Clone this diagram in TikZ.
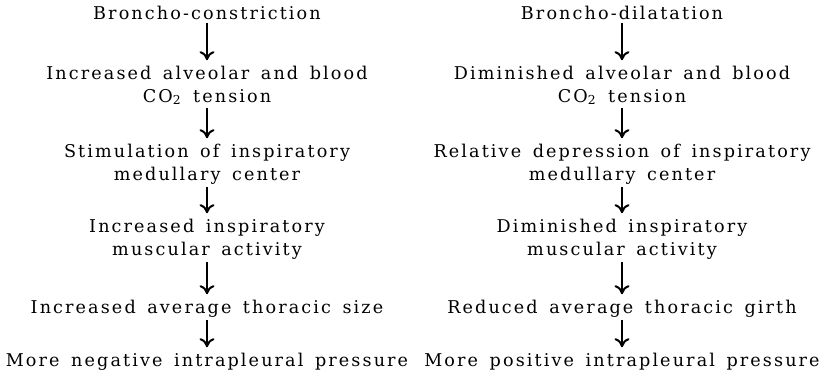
\documentclass[tikz,border=0pt]{standalone}
\usepackage{fontspec}
\setmainfont{DejaVu Serif}[LetterSpace=12,WordSpace=1.5]
\usetikzlibrary{arrows.meta,positioning}
\tikzset{
  stage/.style={align=center,inner sep=1pt,anchor=base,
    font=\fontsize{8.8}{11.5}\selectfont},
  leads/.style={-{Computer Modern Rightarrow[length=4.5pt,width=7.5pt]},
    line width=1pt,shorten <=0.5pt,shorten >=1.5pt},
}
\begin{document}
\begin{tikzpicture}[x=0.5pt,y=-0.5pt]
  \useasboundingbox (0,0) rectangle (825,370);

  % constriction side (base = last line)
  \node[stage] (bc)   at (207,19)  {Broncho-constriction};
  \node[stage] (bcco) at (207,102) {Increased alveolar and blood\\CO\textsubscript{2} tension};
  \node[stage] (bcmc) at (207,180) {Stimulation of inspiratory\\medullary center};
  \node[stage] (bcma) at (207,255) {Increased inspiratory\\muscular activity};
  \node[stage] (bcts) at (207,313) {Increased average thoracic size};
  \node[stage] (bcip) at (207,366) {More negative intrapleural pressure};

  % dilatation side
  \node[stage] (bd)   at (622,19)  {Broncho-dilatation};
  \node[stage] (bdco) at (622,102) {Diminished alveolar and blood\\CO\textsubscript{2} tension};
  \node[stage] (bdmc) at (622,180) {Relative depression of inspiratory\\medullary center};
  \node[stage] (bdma) at (622,255) {Diminished inspiratory\\muscular activity};
  \node[stage] (bdts) at (622,313) {Reduced average thoracic girth};
  \node[stage] (bdip) at (622,366) {More positive intrapleural pressure};

  \draw[leads] (bc) -- (bcco);
  \draw[leads] (bcco) -- (bcmc);
  \draw[leads] (bcmc) -- (bcma);
  \draw[leads] (bcma) -- (bcts);
  \draw[leads] (bcts) -- (bcip);

  \draw[leads] (bd) -- (bdco);
  \draw[leads] (bdco) -- (bdmc);
  \draw[leads] (bdmc) -- (bdma);
  \draw[leads] (bdma) -- (bdts);
  \draw[leads] (bdts) -- (bdip);
\end{tikzpicture}
\end{document}
